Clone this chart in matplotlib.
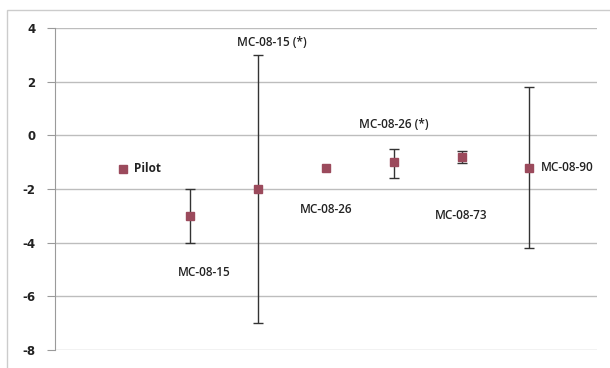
import matplotlib
matplotlib.use('Agg')
import matplotlib.pyplot as plt
from matplotlib.patches import Rectangle

plt.rcParams['axes.unicode_minus'] = False

# data
names = ['Pilot', 'MC-08-15', 'MC-08-15 (*)', 'MC-08-26', 'MC-08-26 (*)', 'MC-08-73', 'MC-08-90']
xpos = [1, 2, 3, 4, 5, 6, 7]
values = [-1.25, -3.0, -2.0, -1.2, -1.0, -0.8, -1.2]
err_lo = [0.0, 1.0, 5.0, 0.0, 0.6, 0.25, 3.0]
err_hi = [0.0, 1.0, 5.0, 0.0, 0.5, 0.2, 3.0]
yticks = [4, 2, 0, -2, -4, -6, -8]

# label placement (offset in points, alignment)
label_pos = {
    'Pilot': ((8, 0), 'left', 'center'),
    'MC-08-15': ((10, -41), 'center', 'center'),
    'MC-08-15 (*)': ((10, 4), 'center', 'bottom'),
    'MC-08-26': ((0, -30), 'center', 'center'),
    'MC-08-26 (*)': ((0, 27), 'center', 'center'),
    'MC-08-73': ((0, -42), 'center', 'center'),
    'MC-08-90': ((8, 0), 'left', 'center'),
}

fig = plt.figure(figsize=(6.1, 3.68), dpi=100)
ax = fig.add_axes([0.09, 0.049, 0.889, 0.875])

marker_color = '#9b4a5c'
ax.plot(xpos, values, 's', color=marker_color, ms=5.5, zorder=4)
bx = [x for x, lo in zip(xpos, err_lo) if lo > 0]
bv = [v for v, lo in zip(values, err_lo) if lo > 0]
blo = [lo for lo in err_lo if lo > 0]
bhi = [hi for hi, lo in zip(err_hi, err_lo) if lo > 0]
ax.errorbar(bx, bv, yerr=[blo, bhi], fmt='none', ecolor='#333333',
            elinewidth=1, capsize=3.5, capthick=1, zorder=3)

for name, x, v, lo, hi in zip(names, xpos, values, err_lo, err_hi):
    off, ha, va = label_pos[name]
    y = v + hi if name == 'MC-08-15 (*)' else v
    ax.annotate(name, (x, y), textcoords='offset points', xytext=off,
                ha=ha, va=va, fontsize=8.5, color='#222222',
                fontweight='bold' if name == 'Pilot' else 'semibold',
                family='Open Sans')

ax.set_xlim(0, 8)
ax.set_ylim(-8, 4)
ax.set_yticks(yticks)
ax.set_xticks([])
ax.yaxis.grid(True, color='#bdbdbd', linewidth=1)
ax.set_axisbelow(True)
for s in ['top', 'right', 'bottom']:
    ax.spines[s].set_visible(False)
ax.spines['left'].set_color('#9a9a9a')
ax.tick_params(axis='y', length=6, color='#9a9a9a', labelsize=8.5, labelcolor='#222222', pad=8)
for t in ax.get_yticklabels():
    t.set_fontweight('bold')

fig.patches.append(Rectangle((7 / 610, -0.01), 1.0, 1 - 10 / 368 + 0.01, transform=fig.transFigure,
                             fill=False, edgecolor='#cccccc', linewidth=1))

fig.savefig('out.png', dpi=100)
